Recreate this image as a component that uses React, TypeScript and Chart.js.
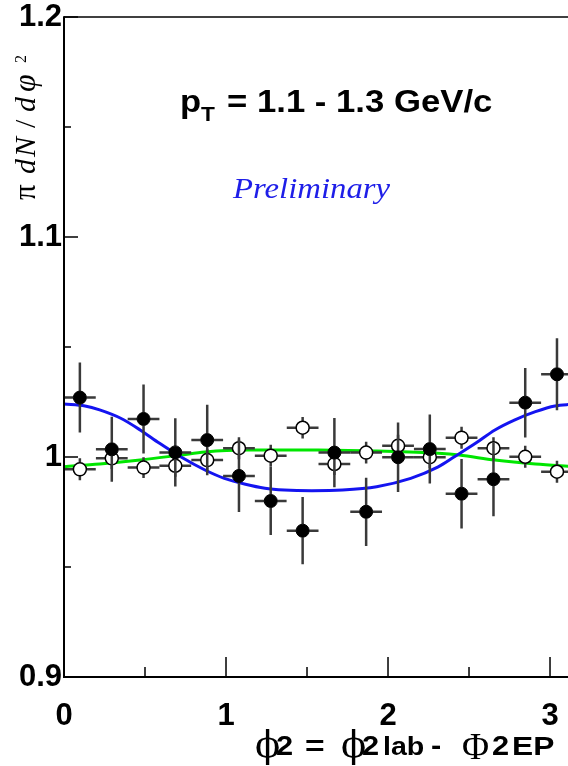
import React, { useEffect, useRef } from 'react';
import { Chart, registerables } from 'chart.js';

Chart.register(...registerables);

// ---- data ----
const binCenters = [0.098, 0.295, 0.491, 0.687, 0.884, 1.080, 1.276, 1.473, 1.669, 1.865, 2.062, 2.258, 2.454, 2.651, 2.847, 3.043];
const binHalfWidth = 0.098;
const filledValues = [1.0270, 1.0035, 1.0173, 1.0021, 1.0077, 0.9914, 0.9800, 0.9665, 1.0020, 0.9751, 0.9999, 1.0036, 0.9833, 0.9899, 1.0247, 1.0376];
const filledErrors = [0.0159, 0.0148, 0.0157, 0.0155, 0.0160, 0.0164, 0.0155, 0.0153, 0.0157, 0.0155, 0.0158, 0.0157, 0.0158, 0.0168, 0.0158, 0.0164];
const openValues = [0.9944, 0.9994, 0.9952, 0.9960, 0.9986, 1.0040, 1.0006, 1.0133, 0.9968, 1.0020, 1.0051, 0.9999, 1.0088, 1.0040, 1.0001, 0.9933];
const openErrors = [0.0050, 0.0048, 0.0047, 0.0050, 0.0050, 0.0050, 0.0050, 0.0049, 0.0050, 0.0049, 0.0050, 0.0050, 0.0050, 0.0050, 0.0050, 0.0050];

const blueFitX = [0.0, 0.13, 0.22, 0.35, 0.47, 0.59, 0.72, 0.87, 0.99, 1.12, 1.24, 1.36, 1.53, 1.72, 1.93, 2.14, 2.31, 2.41, 2.54, 2.66, 2.78, 2.91, 3.03, 3.14];
const blueFitY = [1.0241, 1.0232, 1.0214, 1.0176, 1.0123, 1.0062, 1.0001, 0.9941, 0.9903, 0.9876, 0.9858, 0.9850, 0.9847, 0.9850, 0.9865, 0.9903, 0.9955, 1.0001, 1.0062, 1.0123, 1.0168, 1.0206, 1.0232, 1.0240];
const greenFitX = [0.0, 0.22, 0.47, 0.72, 0.87, 1.12, 1.36, 1.57, 1.93, 2.31, 2.44, 2.66, 2.91, 3.14];
const greenFitY = [0.9956, 0.9968, 0.9986, 1.0009, 1.0023, 1.0032, 1.0032, 1.0032, 1.0027, 1.0017, 1.0009, 0.9986, 0.9968, 0.9957];

const xTickValues = [0, 1, 2, 3];
const xTickLabels = ['0', '1', '2', '3'];
const xMinorTicks = [0.5, 1.5, 2.5];
const yTickValues = [0.9, 1.0, 1.1, 1.2];
const yTickLabels = ['0.9', '1', '1.1', '1.2'];
const yMinorTicks = [0.95, 1.05, 1.15];

const X_MIN = 0;
const X_MAX = 3.111;
const Y_MIN = 0.9;
const Y_MAX = 1.2;

const MARKER_R = 6.5;

const errorBarPlugin = {
  id: 'errorBars',
  beforeDatasetDraw(chart: any, args: any) {
    const ds: any = chart.data.datasets[args.index];
    if (!ds.errY) return;
    const xs = chart.scales.x;
    const ys = chart.scales.y;
    const ctx = chart.ctx;
    const area = chart.chartArea;
    ctx.save();
    ctx.beginPath();
    ctx.rect(area.left, area.top, area.right - area.left, area.bottom - area.top);
    ctx.clip();
    ctx.strokeStyle = '#3a3a3a';
    ctx.lineWidth = 2.5;
    ds.data.forEach((p: any, i: number) => {
      const px = xs.getPixelForValue(p.x);
      const py = ys.getPixelForValue(p.y);
      const pxL = xs.getPixelForValue(p.x - ds.errX);
      const pxR = xs.getPixelForValue(p.x + ds.errX);
      const pyT = ys.getPixelForValue(p.y + ds.errY[i]);
      const pyB = ys.getPixelForValue(p.y - ds.errY[i]);
      ctx.beginPath();
      if (py - pyT > MARKER_R) { ctx.moveTo(px, py - MARKER_R); ctx.lineTo(px, pyT); }
      if (pyB - py > MARKER_R) { ctx.moveTo(px, py + MARKER_R); ctx.lineTo(px, pyB); }
      ctx.moveTo(px - MARKER_R, py); ctx.lineTo(pxL, py);
      ctx.moveTo(px + MARKER_R, py); ctx.lineTo(pxR, py);
      ctx.stroke();
    });
    ctx.restore();
  },
};

const framePlugin = {
  id: 'frame',
  afterDatasetsDraw(chart: any) {
    const ctx = chart.ctx;
    const a = chart.chartArea;
    const xs = chart.scales.x;
    const ys = chart.scales.y;
    ctx.save();
    ctx.strokeStyle = '#000';
    ctx.lineWidth = 1.5;
    ctx.beginPath();
    ctx.moveTo(a.left, a.top);
    ctx.lineTo(a.right, a.top);
    ctx.stroke();
    ctx.lineWidth = 2;
    ctx.beginPath();
    ctx.moveTo(a.left, a.top - 0.75);
    ctx.lineTo(a.left, a.bottom);
    ctx.lineTo(a.right, a.bottom);
    ctx.stroke();
    ctx.lineWidth = 1.5;
    ctx.beginPath();
    yTickValues.forEach((v) => {
      const py = ys.getPixelForValue(v);
      ctx.moveTo(a.left, py);
      ctx.lineTo(a.left + 14, py);
    });
    yMinorTicks.forEach((v) => {
      const py = ys.getPixelForValue(v);
      ctx.moveTo(a.left, py);
      ctx.lineTo(a.left + 7, py);
    });
    xTickValues.forEach((v) => {
      const px = xs.getPixelForValue(v);
      ctx.moveTo(px, a.bottom);
      ctx.lineTo(px, a.bottom - 20);
    });
    xMinorTicks.forEach((v) => {
      const px = xs.getPixelForValue(v);
      ctx.moveTo(px, a.bottom);
      ctx.lineTo(px, a.bottom - 10);
    });
    ctx.stroke();
    ctx.restore();
  },
};

function drawStretched(ctx: CanvasRenderingContext2D, text: string, x: number, y: number, font: string, sx: number) {
  ctx.save();
  ctx.font = font;
  ctx.translate(x, y);
  ctx.scale(sx, 1);
  ctx.fillText(text, 0, 0);
  ctx.restore();
}

const textPlugin = {
  id: 'annotText',
  afterDraw(chart: any) {
    const ctx = chart.ctx;
    ctx.save();
    ctx.fillStyle = '#000';
    ctx.textBaseline = 'alphabetic';
    ctx.textAlign = 'left';
    const sans = '"Liberation Sans", Arial, sans-serif';
    const serif = '"Liberation Serif", "Times New Roman", serif';

    // pT label
    drawStretched(ctx, 'p', 180, 112, `bold 32px ${sans}`, 1.08);
    drawStretched(ctx, 'T', 201, 121, `bold 21px ${sans}`, 1.08);
    drawStretched(ctx, '= 1.1 - 1.3 GeV/c', 227, 112, `bold 32px ${sans}`, 1.085);

    // Preliminary
    ctx.fillStyle = '#1e1ee8';
    drawStretched(ctx, 'Preliminary', 233, 198, `italic 29px ${serif}`, 1.13);

    // Y title (rotated)
    ctx.fillStyle = '#000';
    ctx.save();
    ctx.translate(35, 200);
    ctx.rotate(-Math.PI / 2);
    ctx.font = `31px ${serif}`;
    ctx.fillText('\u03c0', 0, 0);
    ctx.font = `italic 30px ${serif}`;
    ctx.fillText('d', 26, 0);
    ctx.fillText('N', 43, 0);
    ctx.font = `30px ${serif}`;
    ctx.fillText('/', 72, 0);
    ctx.font = `italic 30px ${serif}`;
    ctx.fillText('d', 88, 0);
    ctx.font = `italic 32px ${serif}`;
    ctx.fillText('\u03c6', 108, 0);
    ctx.font = `16px ${serif}`;
    ctx.fillText('2', 137, -9);
    ctx.restore();

    // X title
    const bold = `bold 28px ${sans}`;
    const small = `bold 26px ${sans}`;
    const phiFont = '37px "DejaVu Serif", "Liberation Serif", serif';
    const base = 755;
    const sx = 1.1;
    ctx.font = phiFont;
    ctx.fillText('\u03d5', 255, base + 2);
    drawStretched(ctx, '2', 276, base, bold, sx);
    drawStretched(ctx, '=', 305, base, bold, 1.2);
    ctx.font = phiFont;
    ctx.fillText('\u03d5', 341, base + 2);
    drawStretched(ctx, '2', 362, base, bold, sx);
    drawStretched(ctx, 'lab', 383, base, small, 1.1);
    drawStretched(ctx, '-', 431, base, bold, sx);
    drawStretched(ctx, '\u03a6', 462, base + 4, `37px ${serif}`, 1.0);
    drawStretched(ctx, '2', 492, base, bold, sx);
    drawStretched(ctx, 'EP', 512, base, small, 1.22);
    ctx.restore();
  },
};

export default function App() {
  const canvasRef = useRef<HTMLCanvasElement | null>(null);

  useEffect(() => {
    const canvas = canvasRef.current;
    if (!canvas) return;

    const filledData = binCenters.map((x, i) => ({ x, y: filledValues[i] }));
    const openData = binCenters.map((x, i) => ({ x, y: openValues[i] }));
    const blueData = blueFitX.map((x, i) => ({ x, y: blueFitY[i] }));
    const greenData = greenFitX.map((x, i) => ({ x, y: greenFitY[i] }));

    const tickFont = { family: '"Liberation Sans", Arial, sans-serif', size: 31, weight: 'bold' as const, lineHeight: 1 };

    const chart = new Chart(canvas, {
      type: 'scatter',
      data: {
        datasets: [
          {
            label: 'fit2',
            data: greenData,
            showLine: true,
            borderColor: '#00e600',
            borderWidth: 3,
            pointRadius: 0,
            cubicInterpolationMode: 'monotone',
            order: 4,
          } as any,
          {
            label: 'fit1',
            data: blueData,
            showLine: true,
            borderColor: '#1414f0',
            borderWidth: 3,
            pointRadius: 0,
            cubicInterpolationMode: 'monotone',
            order: 3,
          } as any,
          {
            label: 'open',
            data: openData,
            errY: openErrors,
            errX: binHalfWidth,
            pointRadius: MARKER_R,
            pointBackgroundColor: '#ffffff',
            pointBorderColor: '#000000',
            pointBorderWidth: 1.5,
            order: 2,
          } as any,
          {
            label: 'filled',
            data: filledData,
            errY: filledErrors,
            errX: binHalfWidth,
            pointRadius: MARKER_R,
            pointBackgroundColor: '#000000',
            pointBorderColor: '#000000',
            pointBorderWidth: 1,
            order: 1,
          } as any,
        ],
      },
      options: {
        animation: false,
        responsive: false,
        maintainAspectRatio: false,
        layout: { autoPadding: false, padding: { top: 17, right: 0, left: 0, bottom: 0 } },
        plugins: { legend: { display: false }, tooltip: { enabled: false } },
        scales: {
          x: {
            type: 'linear',
            min: X_MIN,
            max: X_MAX,
            grid: { display: false, drawTicks: false },
            border: { display: false },
            afterBuildTicks: (s: any) => { s.ticks = xTickValues.map((v) => ({ value: v })); },
            afterFit: (s: any) => { s.height = 89; s.paddingLeft = 0; s.paddingRight = 0; },
            ticks: {
              autoSkip: false,
              maxRotation: 0,
              minRotation: 0,
              padding: 24,
              color: '#000',
              font: tickFont,
              callback: (v: any) => { const i = xTickValues.indexOf(Number(v)); return i >= 0 ? xTickLabels[i] : ''; },
            },
          },
          y: {
            type: 'linear',
            min: Y_MIN,
            max: Y_MAX,
            grid: { display: false, drawTicks: false },
            border: { display: false },
            afterBuildTicks: (s: any) => { s.ticks = yTickValues.map((v) => ({ value: v })); },
            afterFit: (s: any) => { s.width = 64; s.paddingTop = 0; s.paddingBottom = 0; },
            ticks: {
              autoSkip: false,
              padding: 2,
              color: '#000',
              font: tickFont,
              callback: (v: any) => { const i = yTickValues.findIndex((t) => Math.abs(t - Number(v)) < 1e-9); return i >= 0 ? yTickLabels[i] : ''; },
            },
          },
        },
      },
      plugins: [errorBarPlugin, framePlugin, textPlugin],
    });

    return () => chart.destroy();
  }, []);

  return (
    <div style={{ position: 'absolute', left: 0, top: 0, width: 568, height: 766, background: '#fff' }}>
      <canvas ref={canvasRef} width={568} height={766} style={{ display: 'block', width: 568, height: 766 }} />
    </div>
  );
}
